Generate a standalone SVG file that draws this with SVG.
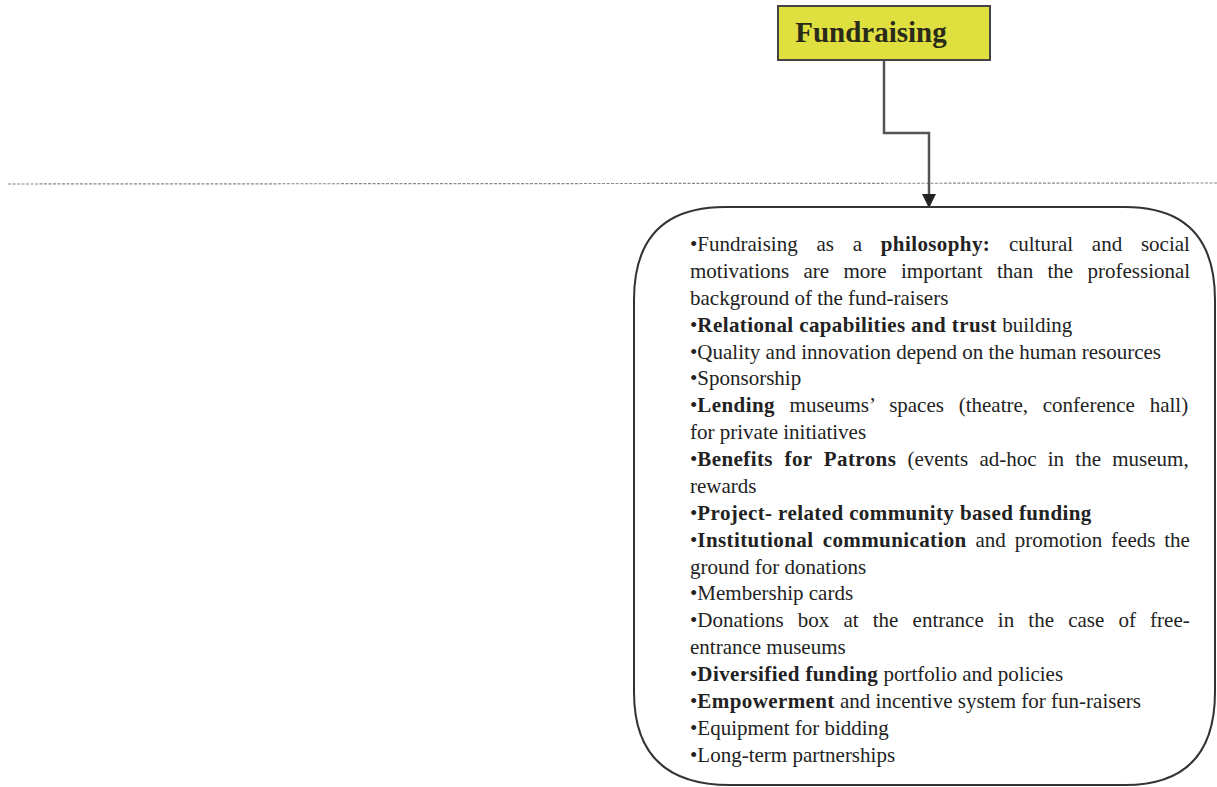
<svg xmlns="http://www.w3.org/2000/svg" width="1217" height="787" viewBox="0 0 1217 787">
  <style>
    .title { font-family: "Liberation Serif", "Times New Roman", serif; font-size: 29px; font-weight: bold; fill: #2a2a1a; }
    .item { font-family: "Liberation Serif", "Times New Roman", serif; font-size: 21px; fill: #222; }
    .b { font-weight: bold; letter-spacing: 0.4px; }
    .wire { fill: none; stroke: #555; stroke-width: 2.5; }
  </style>
  <defs>
    <marker id="arrow" viewBox="0 0 14 14" refX="13" refY="7" markerWidth="14" markerHeight="14" markerUnits="userSpaceOnUse" orient="auto">
      <path d="M0,0 L14,7 L0,14 Z" fill="#222"/>
    </marker>
  </defs>
  <rect width="1217" height="787" fill="#fff"/>

  <!-- dotted separator -->
  <line x1="8" y1="184" x2="1217" y2="183" stroke="#888" stroke-width="1.2" stroke-dasharray="3,1.5"/>

  <g id="connectors">
    <path class="wire" d="M884,60 V133 H929 V207" marker-end="url(#arrow)"/>
  </g>

  <g id="fundraising">
    <rect x="778" y="6" width="212" height="54" fill="#dfe040" stroke="#444" stroke-width="2"/>
    <text class="title" x="871" y="42" text-anchor="middle">Fundraising</text>
  </g>

  <g id="details">
    <path d="M725,207 H1125 Q1215,207 1215,300 V692 Q1215,785 1125,785 H730 Q634,785 634,692 V300 Q634,207 725,207 Z" fill="#fff" stroke="#333" stroke-width="2"/>
    <text class="item" x="690" y="251" word-spacing="13.5">•Fundraising as a <tspan class="b">philosophy:</tspan> cultural and social</text>
    <text class="item" x="690" y="278" word-spacing="9.1">motivations are more important than the professional</text>
    <text class="item" x="690" y="305">background of the fund-raisers</text>
    <text class="item" x="690" y="332">•<tspan class="b">Relational capabilities and trust</tspan> building</text>
    <text class="item" x="690" y="359">•Quality and innovation depend on the human resources</text>
    <text class="item" x="690" y="385">•Sponsorship</text>
    <text class="item" x="690" y="412" word-spacing="9.5">•<tspan class="b">Lending</tspan> museums’ spaces (theatre, conference hall)</text>
    <text class="item" x="690" y="439">for private initiatives</text>
    <text class="item" x="690" y="466" word-spacing="6">•<tspan class="b">Benefits for Patrons</tspan> (events ad-hoc in the museum,</text>
    <text class="item" x="690" y="493">rewards</text>
    <text class="item" x="690" y="520">•<tspan class="b">Project- related community based funding</tspan></text>
    <text class="item" x="690" y="547" word-spacing="3.6">•<tspan class="b">Institutional communication</tspan> and promotion feeds the</text>
    <text class="item" x="690" y="574">ground for donations</text>
    <text class="item" x="690" y="600">•Membership cards</text>
    <text class="item" x="690" y="627" word-spacing="8.9">•Donations box at the entrance in the case of free-</text>
    <text class="item" x="690" y="654">entrance museums</text>
    <text class="item" x="690" y="681">•<tspan class="b">Diversified funding</tspan> portfolio and policies</text>
    <text class="item" x="690" y="708">•<tspan class="b">Empowerment</tspan> and incentive system for fun-raisers</text>
    <text class="item" x="690" y="735">•Equipment for bidding</text>
    <text class="item" x="690" y="762">•Long-term partnerships</text>
  </g>
</svg>
